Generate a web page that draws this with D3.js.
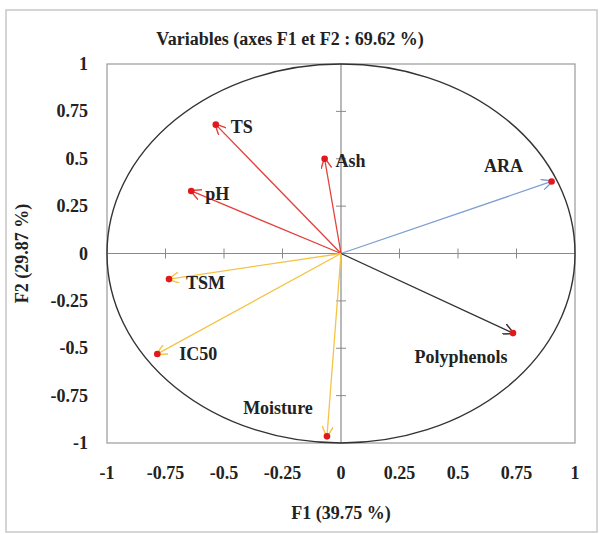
<!DOCTYPE html>
<meta charset="utf-8">
<style>
  body { margin: 0; background: #fff; }
  text { font-family: "Liberation Serif", "Times New Roman", serif; font-weight: bold; fill: #222; }
</style>
<body>
<script src="https://d3js.org/d3.v7.min.js"></script>
<script>
// variables of the correlation circle
var names = ["TS", "Ash", "pH", "ARA", "TSM", "IC50", "Polyphenols", "Moisture"];
var f1 = [-0.535, -0.07, -0.64, 0.90, -0.735, -0.785, 0.735, -0.06];
var f2 = [0.68, 0.50, 0.33, 0.38, -0.135, -0.53, -0.42, -0.965];
var group = ["red", "red", "red", "blue", "yellow", "yellow", "dark", "yellow"];
var ticks = [-1, -0.75, -0.5, -0.25, 0, 0.25, 0.5, 0.75, 1];

var data = names.map(function(n, i) {
  return {name: n, x: f1[i], y: f2[i], g: group[i]};
});

// styling
var colors = {red: "#e2403a", blue: "#7d9fd3", yellow: "#f4c446", dark: "#333333"};
var labelPos = {
  TS: [15, 8, "start"], Ash: [11, 8, "start"], pH: [14, 9, "start"],
  ARA: [-48, -9, "middle"], TSM: [17, 10, "start"], IC50: [22, 6, "start"],
  Polyphenols: [-52, 30, "middle"], Moisture: [-49, -22, "middle"]
};
var fs = 18;

var W = 600, H = 534;
var margin = {top: 64, right: 25, bottom: 91, left: 107};
var width = W - margin.left - margin.right,
    height = H - margin.top - margin.bottom;

var svg = d3.select("body").append("svg")
    .attr("width", W)
    .attr("height", H);

// outer frame
svg.append("rect")
    .attr("x", 6).attr("y", 10)
    .attr("width", 591).attr("height", 522)
    .attr("fill", "none").attr("stroke", "#c8c8c8").attr("stroke-width", 1.5);

var x = d3.scaleLinear().domain([-1, 1]).range([0, width]);
var y = d3.scaleLinear().domain([-1, 1]).range([height, 0]);

var g = svg.append("g")
    .attr("transform", "translate(" + margin.left + "," + margin.top + ")");

// plot border
g.append("rect")
    .attr("width", width).attr("height", height)
    .attr("fill", "none").attr("stroke", "#9a9a9a").attr("stroke-width", 1.2);

// axes through the origin
g.append("line")
    .attr("x1", 0).attr("x2", width).attr("y1", y(0)).attr("y2", y(0))
    .attr("stroke", "#8a8a8a").attr("stroke-width", 1.2);
g.append("line")
    .attr("x1", x(0)).attr("x2", x(0)).attr("y1", 0).attr("y2", height)
    .attr("stroke", "#8a8a8a").attr("stroke-width", 1.2);

ticks.filter(function(t) { return t != 0 && Math.abs(t) != 1; }).forEach(function(t) {
  g.append("line")
      .attr("x1", x(t)).attr("x2", x(t)).attr("y1", y(0) - 5).attr("y2", y(0) + 5)
      .attr("stroke", "#8a8a8a");
  g.append("line")
      .attr("x1", x(0) - 5).attr("x2", x(0) + 5).attr("y1", y(t)).attr("y2", y(t))
      .attr("stroke", "#8a8a8a");
});

// unit circle
g.append("ellipse")
    .attr("cx", x(0)).attr("cy", y(0))
    .attr("rx", x(1) - x(0)).attr("ry", y(0) - y(1))
    .attr("fill", "none").attr("stroke", "#333").attr("stroke-width", 1.4);

// tick labels
g.selectAll(".xt").data(ticks).enter().append("text")
    .attr("x", function(d) { return x(d); })
    .attr("y", height + 36)
    .attr("text-anchor", "middle")
    .attr("font-size", fs)
    .text(function(d) { return d; });

g.selectAll(".yt").data(ticks).enter().append("text")
    .attr("x", -19)
    .attr("y", function(d) { return y(d) + 6; })
    .attr("text-anchor", "end")
    .attr("font-size", fs)
    .text(function(d) { return d; });

// arrowheads
Object.keys(colors).forEach(function(k) {
  svg.append("defs").append("marker")
      .attr("id", "arr-" + k)
      .attr("viewBox", "0 0 10 10")
      .attr("refX", 9).attr("refY", 5)
      .attr("markerWidth", 11).attr("markerHeight", 11)
      .attr("markerUnits", "userSpaceOnUse")
      .attr("orient", "auto")
    .append("path")
      .attr("d", "M0,0 L10,5 L0,10")
      .attr("fill", "none")
      .attr("stroke", colors[k])
      .attr("stroke-width", 1.3);
});

g.selectAll(".vec").data(data).enter().append("line")
    .attr("x1", x(0)).attr("y1", y(0))
    .attr("x2", function(d) { return x(d.x); })
    .attr("y2", function(d) { return y(d.y); })
    .attr("stroke", function(d) { return colors[d.g]; })
    .attr("stroke-width", 1.3)
    .attr("marker-end", function(d) { return "url(#arr-" + d.g + ")"; });

g.selectAll(".pt").data(data).enter().append("circle")
    .attr("cx", function(d) { return x(d.x); })
    .attr("cy", function(d) { return y(d.y); })
    .attr("r", 3.3)
    .attr("fill", "#e0191c");

g.selectAll(".lab").data(data).enter().append("text")
    .attr("x", function(d) { return x(d.x) + labelPos[d.name][0]; })
    .attr("y", function(d) { return y(d.y) + labelPos[d.name][1]; })
    .attr("text-anchor", function(d) { return labelPos[d.name][2]; })
    .attr("font-size", fs)
    .text(function(d) { return d.name; });

// titles
svg.append("text")
    .attr("x", 290).attr("y", 45)
    .attr("text-anchor", "middle")
    .attr("font-size", fs)
    .text("Variables (axes F1 et F2 : 69.62 %)");

svg.append("text")
    .attr("x", margin.left + x(0)).attr("y", 519)
    .attr("text-anchor", "middle")
    .attr("font-size", fs)
    .text("F1 (39.75 %)");

svg.append("text")
    .attr("transform", "translate(28," + (margin.top + y(0)) + ") rotate(-90)")
    .attr("text-anchor", "middle")
    .attr("font-size", fs)
    .text("F2 (29.87 %)");
</script>
</body>
